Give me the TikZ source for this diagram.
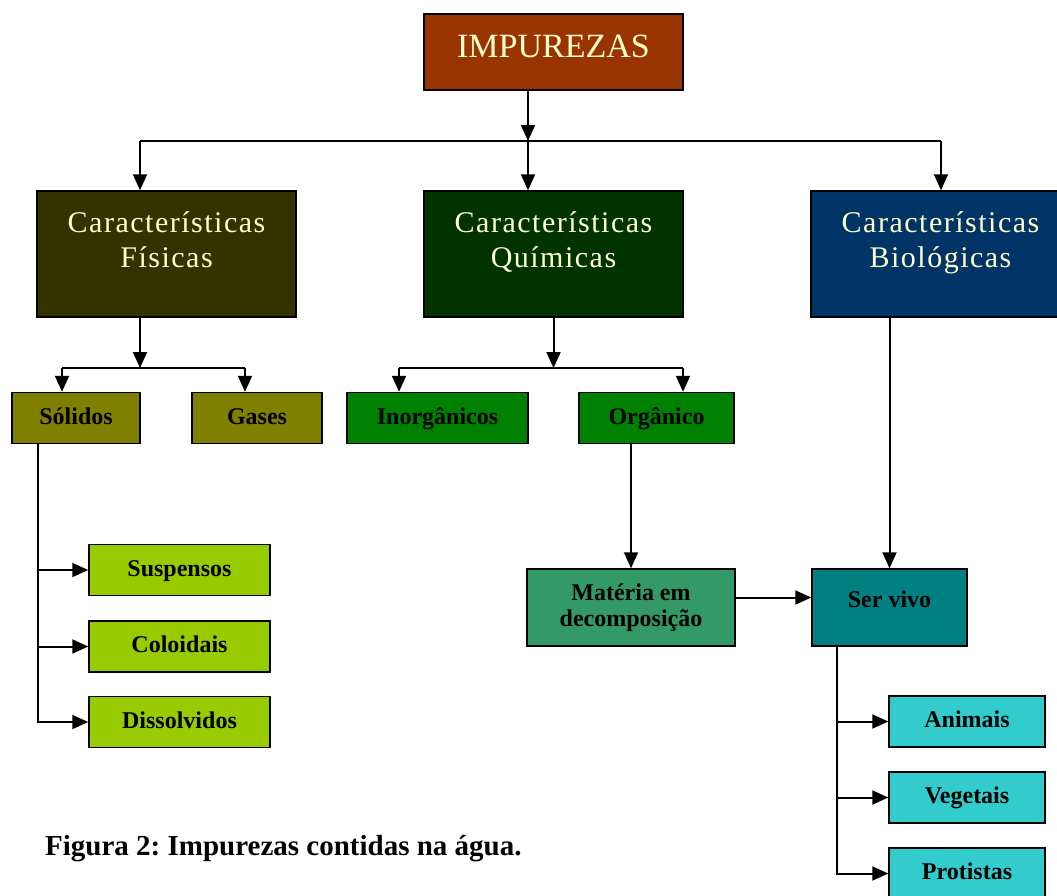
\documentclass[tikz,border=0pt]{standalone}
\usepackage{fontspec}
\setmainfont{Liberation Serif}
\newfontfamily\headfont[LetterSpace=5]{Liberation Serif}
\usetikzlibrary{arrows.meta, positioning}
\tikzset{>=latex}
\frenchspacing
\definecolor{impcol}{HTML}{993300}
\definecolor{fiscol}{HTML}{333300}
\definecolor{quicol}{HTML}{003300}
\definecolor{biocol}{HTML}{003366}
\definecolor{solcol}{HTML}{808000}
\definecolor{orgcol}{HTML}{008000}
\definecolor{suscol}{HTML}{99CC00}
\definecolor{matcol}{HTML}{339966}
\definecolor{sercol}{HTML}{008080}
\definecolor{anicol}{HTML}{33CCCC}
\definecolor{cream}{HTML}{FFFFCC}
\tikzset{
  box/.style={draw=black, line width=1.5pt, rectangle, inner sep=0pt},
  headbox/.style={box, minimum width=259pt, minimum height=126pt, text=cream, align=center,
    font=\headfont\fontsize{30}{35}\selectfont, text depth=29pt},
  leafbox/.style={box, minimum height=51pt, text=black, align=center,
    font=\fontsize{24}{26}\selectfont\bfseries},
  onerow/.style={text height=17pt, text depth=5pt},
  arr/.style={line width=2pt, -{Triangle[length=16pt,width=14pt]}},
  link/.style={line width=2pt}
}

\begin{document}
\begin{tikzpicture}[x=1pt, y=-1pt]
\useasboundingbox (0,0) rectangle (1057,895);
% top
\node[box, fill=impcol, minimum width=259pt, minimum height=76pt, text=cream,
  font=\fontsize{34}{40}\selectfont, text depth=12pt] (imp) at (553.5,52) {IMPUREZAS};
% characteristics
\node[headbox, fill=fiscol] (fis) at (166.5,254) {Características\\Físicas};
\node[headbox, fill=quicol] (qui) at (553.5,254) {Características\\Químicas};
\node[headbox, fill=biocol] (bio) at (940.5,254) {Características\\Biológicas};
% second level
\node[leafbox, onerow, fill=solcol, minimum width=128pt] (sol) at (76,418) {Sólidos};
\node[leafbox, onerow, fill=solcol, minimum width=130pt] (gas) at (257,418) {Gases};
\node[leafbox, onerow, fill=orgcol, minimum width=181pt] (inorg) at (437.5,418) {Inorgânicos};
\node[leafbox, onerow, fill=orgcol, minimum width=155pt] (org) at (656.5,418) {Orgânico};
% solids
\node[leafbox, onerow, fill=suscol, minimum width=181pt] (susp) at (179.5,570) {Suspensos};
\node[leafbox, onerow, fill=suscol, minimum width=181pt] (col) at (179.5,646.5) {Coloidais};
\node[leafbox, onerow, fill=suscol, minimum width=181pt] (dis) at (179.5,722) {Dissolvidos};
% living
\node[leafbox, fill=matcol, minimum width=208pt, minimum height=77pt] (mat) at (631,607.5) {Matéria em\\decomposição};
\node[leafbox, fill=sercol, minimum width=155pt, minimum height=77pt, text height=17pt, text depth=18pt] (ser) at (889.5,607.5) {Ser vivo};
\node[leafbox, onerow, fill=anicol, minimum width=156pt] (ani) at (967,721.5) {Animais};
\node[leafbox, onerow, fill=anicol, minimum width=156pt] (veg) at (967,797.5) {Vegetais};
\node[leafbox, onerow, fill=anicol, minimum width=156pt] (pro) at (967,873.5) {Protistas};
\node[anchor=base west, font=\fontsize{29}{34}\selectfont\bfseries, inner sep=0pt] (cap) at (45,855) {Figura 2: Impurezas contidas na água.};

% connectors
\coordinate (jtop) at (528,141);
\coordinate (jL) at (140,141);
\coordinate (jR) at (941,141);
\draw[arr] (imp.south -| jtop) -- (jtop);
\draw[link] (jL) -- (jR);
\draw[arr] (jL) -- (jL |- fis.north);
\draw[arr] (jtop) -- (jtop |- qui.north);
\draw[arr] (jR) -- (jR |- bio.north);

\coordinate (jfis) at (140,368);
\coordinate (jsol) at (62,368);
\coordinate (jgas) at (245,368);
\draw[arr] (fis.south -| jfis) -- (jfis);
\draw[link] (jsol) -- (jgas);
\draw[arr] (jsol) -- (jsol |- sol.north);
\draw[arr] (jgas) -- (jgas |- gas.north);

\coordinate (jqui) at (553.5,368);
\coordinate (jinorg) at (399,368);
\coordinate (jorg) at (683,368);
\draw[arr] (qui.south) -- (jqui);
\draw[link] (jinorg) -- (jorg);
\draw[arr] (jinorg) -- (jinorg |- inorg.north);
\draw[arr] (jorg) -- (jorg |- org.north);

\coordinate (tsol) at (38,0);
\draw[arr] (sol.south -| tsol) |- (dis.west);
\draw[arr] (susp.west -| tsol) -- (susp.west);
\draw[arr] (col.west -| tsol) -- (col.west);

\draw[arr] (org.south -| mat.north) -- (mat.north);
\draw[arr] (bio.south -| ser.north) -- (ser.north);
\draw[arr] ([yshift=10pt]mat.east) -- ([yshift=10pt]ser.west);

\coordinate (tser) at (837,0);
\draw[arr] (ser.south -| tser) |- (pro.west);
\draw[arr] (ani.west -| tser) -- (ani.west);
\draw[arr] (veg.west -| tser) -- (veg.west);
\end{tikzpicture}
\end{document}
